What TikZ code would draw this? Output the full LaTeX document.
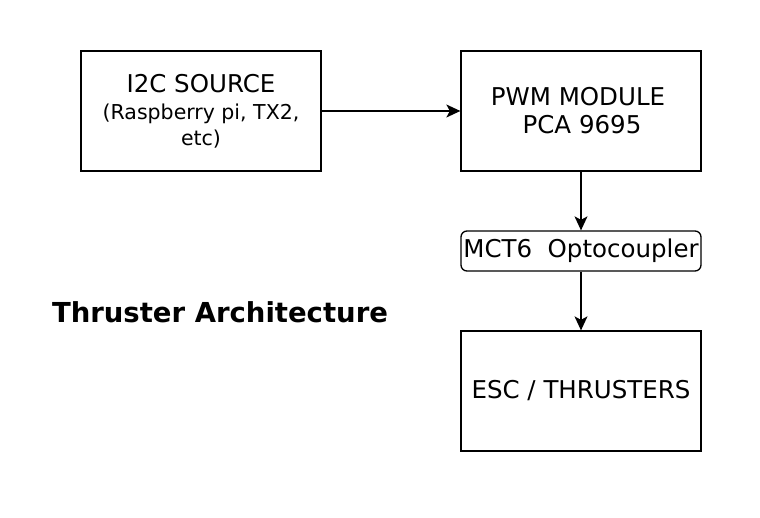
\documentclass[tikz,border=0pt]{standalone}
\usepackage{fontspec}
\setmainfont{DejaVu Sans}
\usetikzlibrary{arrows.meta}
\begin{document}
\begin{tikzpicture}[x=1pt,y=-1pt,
  blk/.style={draw=black,line width=1.3pt,minimum width=240pt,minimum height=120pt,inner sep=0pt,align=center,font=\fontsize{24.5}{28}\selectfont},
  opto/.style={draw=black,line width=1.3pt,rounded corners=6pt,minimum width=240pt,minimum height=40pt,inner sep=0pt,align=center,font=\fontsize{24.5}{28}\selectfont},
  conn/.style={line width=1.3pt,-{Stealth[length=14pt,width=13pt,inset=3.5pt]}}]
\useasboundingbox (0,0) rectangle (760,518);
\node[blk] (src) at (201,111) {I2C SOURCE\\[-1pt]{\fontsize{20.5}{27}\selectfont (Raspberry pi, TX2,}\\[-2pt]{\fontsize{20.5}{27}\selectfont etc)}};
\node[blk] (pwm) at (581,111) {PWM MODULE\hspace*{6pt}\\\hspace*{2pt}PCA 9695};
\node[opto] (mct) at (581,251) {MCT6\ \ Optocoupler};
\node[blk] (esc) at (581,391) {ESC / THRUSTERS};
\node[font=\bfseries\fontsize{27.5}{32}\selectfont] (title) at (220,312) {Thruster Architecture};
\draw[conn] (src) -- (pwm);
\draw[conn] (pwm) -- (mct);
\draw[conn] (mct) -- (esc);
\end{tikzpicture}
\end{document}
